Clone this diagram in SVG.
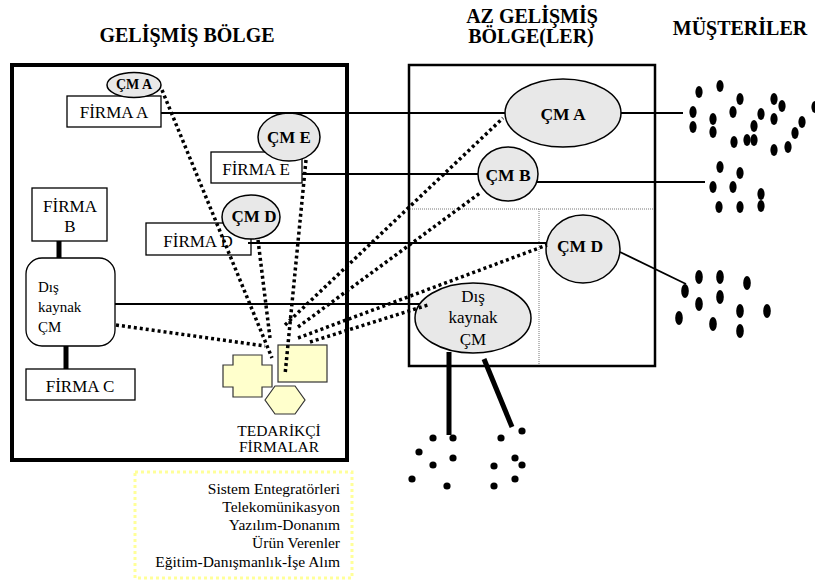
<svg xmlns="http://www.w3.org/2000/svg" width="815" height="584" viewBox="0 0 815 584" font-family="'Liberation Serif', 'DejaVu Serif', serif">
  <style>
    text { font-family: 'Liberation Serif', 'DejaVu Serif', serif; fill: #000; }
    .hd { font-size: 20px; font-weight: bold; text-anchor: middle; }
    .fr { font-size: 17px; text-anchor: middle; }
    .cm { font-weight: bold; text-anchor: middle; }
    .box { fill: #fff; stroke: #000; stroke-width: 1.3; }
    .oval { fill: #e8e8e8; stroke: #000; stroke-width: 1.5; }
    .sup { fill: #ffffcc; stroke: #333; stroke-width: 1.2; }
    .solid { stroke: #000; stroke-width: 1.8; fill: none; }
    .thick { stroke: #000; stroke-width: 5; fill: none; }
    .dot { stroke: #000; stroke-width: 3.5; stroke-dasharray: 3 3; fill: none; }
    .grid { stroke: #777; stroke-width: 1; stroke-dasharray: 1 1; fill: none; }
    .lg { font-size: 15.5px; text-anchor: end; }
  </style>

  <!-- region headings -->
  <g id="headings">
    <text class="hd" x="187" y="42">GELİŞMİŞ BÖLGE</text>
    <text class="hd" x="532" y="23">AZ GELİŞMİŞ</text>
    <text class="hd" x="531" y="43">BÖLGE(LER)</text>
    <text class="hd" x="740" y="35">MÜŞTERİLER</text>
  </g>

  <!-- region frames -->
  <g id="developed-region">
    <rect x="12" y="65" width="335" height="395" fill="none" stroke="#000" stroke-width="4"/>
  </g>
  <g id="less-developed-region">
    <rect x="409" y="65" width="246" height="301" fill="none" stroke="#000" stroke-width="2.5"/>
    <line class="grid" x1="410" y1="209" x2="654" y2="209"/>
    <line class="grid" x1="539" y1="209" x2="539" y2="365"/>
  </g>

  <!-- firms in the developed region -->
  <g id="firma-a">
    <rect class="box" x="67" y="96" width="94" height="31"/>
    <text class="fr" x="114" y="118">FİRMA A</text>
  </g>
  <g id="cm-a-local">
    <ellipse class="oval" cx="134" cy="85" rx="27" ry="12.5"/>
    <text class="cm" x="134" y="89" font-size="14">ÇM A</text>
  </g>
  <g id="firma-e">
    <rect class="box" x="211" y="152" width="91" height="31"/>
    <text class="fr" x="256" y="175">FİRMA E</text>
  </g>
  <g id="cm-e-local">
    <ellipse class="oval" cx="289" cy="137" rx="31" ry="24"/>
    <text class="cm" x="289" y="143" font-size="17">ÇM E</text>
  </g>
  <g id="firma-d">
    <rect class="box" x="146" y="223" width="105" height="32"/>
    <text class="fr" x="198" y="247">FİRMA D</text>
  </g>
  <g id="cm-d-local">
    <ellipse class="oval" cx="251" cy="217" rx="29" ry="22"/>
    <text class="cm" x="254" y="222" font-size="17">ÇM D</text>
  </g>
  <g id="firma-b">
    <rect class="box" x="32" y="188" width="75" height="53"/>
    <text class="fr" x="70" y="212">FİRMA</text>
    <text class="fr" x="70" y="232">B</text>
  </g>
  <g id="dis-kaynak-local">
    <rect class="box" x="26" y="258" width="89" height="88" rx="16" ry="16"/>
    <text x="38" y="292" font-size="15">Dış</text>
    <text x="38" y="312" font-size="15">kaynak</text>
    <text x="38" y="332" font-size="15">ÇM</text>
  </g>
  <g id="firma-c">
    <rect class="box" x="26" y="369" width="109" height="31"/>
    <text class="fr" x="80" y="392">FİRMA C</text>
  </g>
  <g id="tedarikci">
    <path class="sup" d="M233 355 H262 V365 H272 V387 H262 V397 H233 V387 H223 V365 H233 Z"/>
    <rect class="sup" x="278" y="345" width="49" height="37"/>
    <polygon class="sup" points="265,400 275,386 295,386 305,400 295,414 275,414"/>
    <text x="279" y="436" font-size="15.5" text-anchor="middle">TEDARİKÇİ</text>
    <text x="279" y="452" font-size="15.5" text-anchor="middle">FİRMALAR</text>
  </g>

  <!-- service centres in the less developed region -->
  <g id="cm-a">
    <ellipse class="oval" cx="563" cy="113" rx="58" ry="34"/>
    <text class="cm" x="563" y="120" font-size="17.5">ÇM A</text>
  </g>
  <g id="cm-b">
    <ellipse class="oval" cx="508" cy="174" rx="30" ry="27"/>
    <text class="cm" x="508" y="181" font-size="17.5">ÇM B</text>
  </g>
  <g id="cm-d">
    <ellipse class="oval" cx="583" cy="249" rx="37" ry="34"/>
    <text class="cm" x="580" y="252" font-size="17.5">ÇM D</text>
  </g>
  <g id="dis-kaynak">
    <ellipse class="oval" cx="473" cy="318" rx="58" ry="35"/>
    <text x="473" y="302" font-size="17" text-anchor="middle">Dış</text>
    <text x="473" y="323" font-size="17" text-anchor="middle">kaynak</text>
    <text x="473" y="345" font-size="17" text-anchor="middle">ÇM</text>
  </g>

  <!-- customers -->
  <g id="musteriler-a" fill="#000">
    <ellipse cx="699" cy="92" rx="3.6" ry="6"/>
    <ellipse cx="720" cy="86" rx="3.6" ry="6"/>
    <ellipse cx="693" cy="112" rx="3.6" ry="6"/>
    <ellipse cx="693" cy="127" rx="3.6" ry="6"/>
    <ellipse cx="713" cy="119" rx="3.6" ry="6"/>
    <ellipse cx="713" cy="132" rx="3.6" ry="6"/>
    <ellipse cx="740" cy="99" rx="3.6" ry="6"/>
    <ellipse cx="733" cy="112" rx="3.6" ry="6"/>
    <ellipse cx="734" cy="142" rx="3.6" ry="6"/>
    <ellipse cx="747" cy="140" rx="3.6" ry="6"/>
    <ellipse cx="754" cy="126" rx="3.6" ry="6"/>
    <ellipse cx="754" cy="140" rx="3.6" ry="6"/>
    <ellipse cx="761" cy="114" rx="3.6" ry="6"/>
    <ellipse cx="774" cy="99" rx="3.6" ry="6"/>
    <ellipse cx="782" cy="106" rx="3.6" ry="6"/>
    <ellipse cx="774" cy="119" rx="3.6" ry="6"/>
    <ellipse cx="774" cy="150" rx="3.6" ry="6"/>
    <ellipse cx="788" cy="147" rx="3.6" ry="6"/>
    <ellipse cx="795" cy="133" rx="3.6" ry="6"/>
    <ellipse cx="802" cy="122" rx="3.6" ry="6"/>
    <ellipse cx="815" cy="107" rx="3.6" ry="6"/>
  </g>
  <g id="musteriler-b" fill="#000">
    <ellipse cx="720" cy="167" rx="3.6" ry="6"/>
    <ellipse cx="740" cy="173" rx="3.6" ry="6"/>
    <ellipse cx="713" cy="187" rx="3.6" ry="6"/>
    <ellipse cx="733" cy="187" rx="3.6" ry="6"/>
    <ellipse cx="719" cy="207" rx="3.6" ry="6"/>
    <ellipse cx="740" cy="207" rx="3.6" ry="6"/>
    <ellipse cx="761" cy="194" rx="3.6" ry="6"/>
    <ellipse cx="761" cy="206" rx="3.6" ry="6"/>
  </g>
  <g id="musteriler-d" fill="#000">
    <ellipse cx="685" cy="291" rx="3.8" ry="7"/>
    <ellipse cx="699" cy="277" rx="3.8" ry="7"/>
    <ellipse cx="720" cy="277" rx="3.8" ry="7"/>
    <ellipse cx="747" cy="283" rx="3.8" ry="7"/>
    <ellipse cx="699" cy="304" rx="3.8" ry="7"/>
    <ellipse cx="720" cy="297" rx="3.8" ry="7"/>
    <ellipse cx="679" cy="318" rx="3.8" ry="7"/>
    <ellipse cx="713" cy="324" rx="3.8" ry="7"/>
    <ellipse cx="740" cy="311" rx="3.8" ry="7"/>
    <ellipse cx="767" cy="311" rx="3.8" ry="7"/>
    <ellipse cx="740" cy="331" rx="3.8" ry="7"/>
  </g>
  <g id="musteriler-dis-kaynak" fill="#000">
    <circle cx="433" cy="438" r="3.6"/>
    <circle cx="453" cy="438" r="3.6"/>
    <circle cx="419" cy="452" r="3.6"/>
    <circle cx="453" cy="458" r="3.6"/>
    <circle cx="433" cy="465" r="3.6"/>
    <circle cx="412" cy="479" r="3.6"/>
    <circle cx="447" cy="486" r="3.6"/>
    <circle cx="501" cy="438" r="3.6"/>
    <circle cx="522" cy="431" r="3.6"/>
    <circle cx="515" cy="458" r="3.6"/>
    <circle cx="522" cy="465" r="3.6"/>
    <circle cx="494" cy="466" r="3.6"/>
    <circle cx="515" cy="479" r="3.6"/>
    <circle cx="494" cy="486" r="3.6"/>
  </g>

  <!-- supplier categories -->
  <g id="legend">
    <rect x="135" y="472" width="217" height="106" fill="none" stroke="#ffff99" stroke-width="3" stroke-dasharray="3 3"/>
    <text class="lg" x="340" y="494">Sistem Entegratörleri</text>
    <text class="lg" x="340" y="512">Telekomünikasyon</text>
    <text class="lg" x="340" y="530">Yazılım-Donanım</text>
    <text class="lg" x="340" y="548">Ürün Verenler</text>
    <text class="lg" x="340" y="567">Eğitim-Danışmanlık-İşe Alım</text>
  </g>

  <!-- connectors -->
  <g id="connectors">
    <line class="solid" x1="161" y1="113" x2="505" y2="113"/>
    <line class="solid" x1="621" y1="113" x2="683" y2="113"/>
    <line class="solid" x1="302" y1="174" x2="478" y2="174"/>
    <line class="solid" x1="537" y1="182" x2="705" y2="182"/>
    <line class="solid" x1="248" y1="243" x2="547" y2="243"/>
    <line class="solid" x1="620" y1="252" x2="686" y2="284"/>
    <line class="solid" x1="115" y1="304" x2="420" y2="304"/>
    <line class="thick" x1="59" y1="241" x2="59" y2="258"/>
    <line class="thick" x1="66" y1="346" x2="66" y2="369"/>
    <line class="thick" x1="449" y1="352" x2="449" y2="435"/>
    <line class="thick" x1="484" y1="359" x2="512" y2="427"/>
    <line class="dot" x1="162" y1="90" x2="272" y2="358"/>
    <line class="dot" x1="306" y1="160" x2="285" y2="375"/>
    <line class="dot" x1="258" y1="240" x2="270" y2="338"/>
    <line class="dot" x1="116" y1="325" x2="265" y2="346"/>
    <line class="dot" x1="285" y1="325" x2="503" y2="118"/>
    <line class="dot" x1="298" y1="327" x2="480" y2="193"/>
    <line class="dot" x1="298" y1="338" x2="547" y2="245"/>
    <line class="dot" x1="310" y1="342" x2="428" y2="305"/>
  </g>
</svg>
